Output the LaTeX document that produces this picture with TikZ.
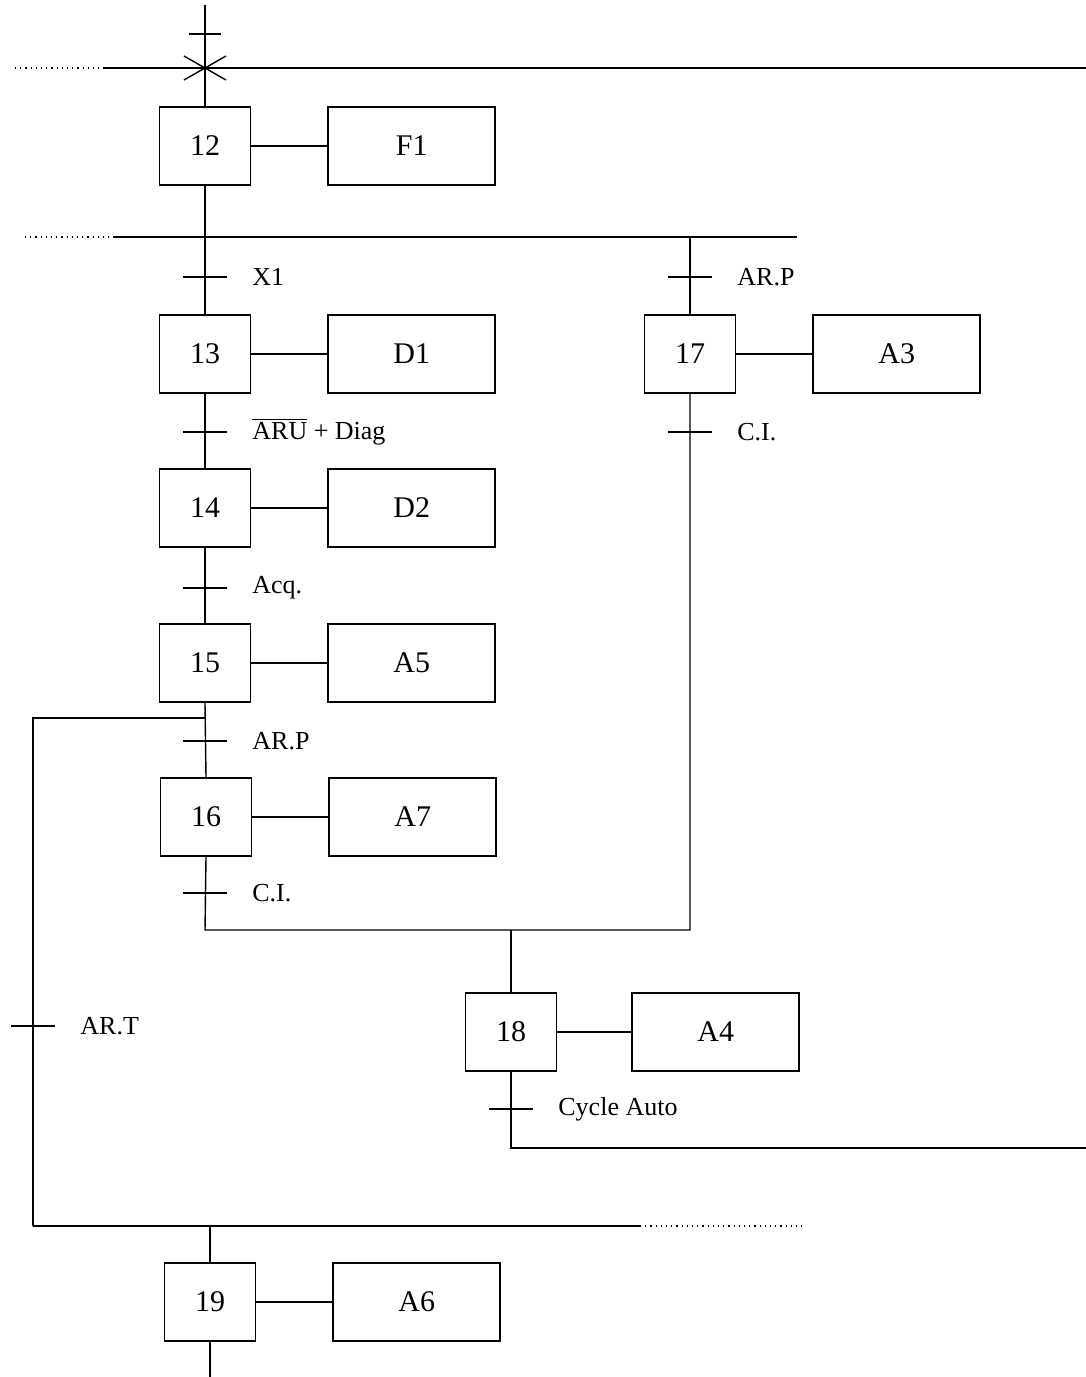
\documentclass[tikz,border=0pt]{standalone}
\usepackage{fontspec}
\setmainfont{Liberation Serif}
\usetikzlibrary{positioning}

\begin{document}
\begin{tikzpicture}[x=0.5pt, y=-0.5pt,
  etape/.style={draw, line width=0.9pt, minimum width=45.5pt, minimum height=39pt, inner sep=0pt, font=\fontsize{15}{17}\selectfont},
  action/.style={draw, line width=0.9pt, minimum width=83.5pt, minimum height=39pt, inner sep=0pt, font=\fontsize{15}{17}\selectfont},
  liaison/.style={line width=0.7pt},
  barre/.style={line width=1.2pt},
  pointille/.style={line width=0.6pt, dotted},
  recept/.style={anchor=west, inner sep=0pt, font=\fontsize{13}{15}\selectfont}]
\useasboundingbox (0,0) rectangle (1086,1377);

% Steps and actions
\node[etape] (s12) at (205,146) {12};
\node[action, right=38pt of s12] (a12) {F1};
\node[etape] (s13) at (205,354) {13};
\node[action, right=38pt of s13] (a13) {D1};
\node[etape] (s14) at (205,508) {14};
\node[action, right=38pt of s14] (a14) {D2};
\node[etape] (s15) at (205,663) {15};
\node[action, right=38pt of s15] (a15) {A5};
\node[etape] (s16) at (206,817) {16};
\node[action, right=38pt of s16] (a16) {A7};
\node[etape] (s17) at (690,354) {17};
\node[action, right=38pt of s17] (a17) {A3};
\node[etape] (s18) at (511,1032) {18};
\node[action, right=37pt of s18] (a18) {A4};
\node[etape] (s19) at (210,1302) {19};
\node[action, right=38pt of s19] (a19) {A6};
\foreach \n in {12,...,19}
  \draw[liaison] (s\n) -- (a\n);

% Junction points
\coordinate (haut) at (205,5);
\coordinate (croix) at (205,68);
\coordinate (div) at (205,237);
\coordinate (divd) at (690,237);
\coordinate (retour) at (205,718);
\coordinate (retourg) at (33,718);
\coordinate (conv) at (205,930);
\coordinate (convd) at (690,930);
\coordinate (conv18) at (511,930);
\coordinate (sortie) at (511,1148);
\coordinate (sortied) at (1086,1148);
\coordinate (bas) at (33,1226);
\coordinate (bas19) at (210,1226);
\coordinate (fin) at (210,1377);

% Horizontal bars
\draw[pointille] (15,68) -- (105,68);
\draw[barre] (105,68) -- (1086,68);
\draw[pointille] (25,237) -- (113,237);
\draw[barre] (113,237) -- (797,237);
\draw[barre] (33,1226) -- (640,1226);
\draw[pointille] (640,1226) -- (805,1226);

% Links
\draw[liaison] (haut) -- (s12.north);
\draw[liaison] (184,56) -- (226,80) (184,80) -- (226,56);
\draw[liaison] (s12.south) -- (div);
\draw[liaison] (div) -- (s13.north);
\draw[liaison] (divd) -- (s17.north);
\draw[liaison] (s13.south) -- (s14.north);
\draw[liaison] (s14.south) -- (s15.north);
\draw[liaison] (s15.south) -- (s16.north);
\draw[liaison] (retour) -- (retourg) -- (bas);
\draw[liaison] (s16.south) -- (conv) -- (convd) -- (s17.south);
\draw[liaison] (conv18) -- (s18.north);
\draw[liaison] (s18.south) -- (sortie) -- (sortied);
\draw[liaison] (bas19) -- (s19.north);
\draw[liaison] (s19.south) -- (fin);

% Transitions
\draw[line width=0.9pt] (189,34) -- (221,34);
\foreach \nom/\x/\y/\texte in {t13/205/277/{X1}, t17/690/277/{AR.P},
    t14/205/432/{\(\overline{\mbox{ARU}}\) + Diag}, t15/205/588/{Acq.},
    t16/205/741/{AR.P}, tc/205/893/{C.I.}, tcd/690/432/{C.I.},
    t18/511/1109/{Cycle Auto}, t19/33/1026/{AR.T}} {
  \coordinate (\nom) at (\x,\y);
  \draw[line width=0.9pt] ([xshift=-11pt]\nom) -- ([xshift=11pt]\nom);
  \node[recept] (l\nom) at ([xshift=23.5pt]\nom) {\texte};
}
\end{tikzpicture}
\end{document}
